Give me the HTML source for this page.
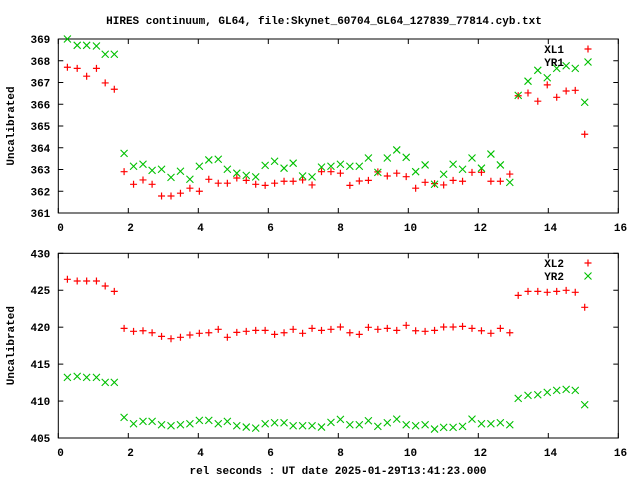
<!DOCTYPE html>
<html><head><meta charset="utf-8"><style>
html,body{margin:0;padding:0;background:#fff;width:640px;height:480px;overflow:hidden}
svg text{font-family:"Liberation Mono",monospace;font-weight:bold;font-size:11px;fill:#000}
</style></head><body>
<svg id="chart" width="640" height="480" viewBox="0 0 640 480" xmlns="http://www.w3.org/2000/svg">
<text x="324" y="24" text-anchor="middle">HIRES continuum, GL64, file:Skynet_60704_GL64_127839_77814.cyb.txt</text>
<text x="338" y="474" text-anchor="middle">rel seconds : UT date 2025-01-29T13:41:23.000</text>
<g id="g"></g>
</svg>
<script>
const times=[0.26,0.54,0.81,1.09,1.34,1.60,
1.88,2.15,2.42,2.68,2.95,3.22,3.49,3.76,4.03,4.30,4.57,4.83,5.10,5.37,5.64,5.91,6.18,6.45,6.71,6.98,7.25,7.52,7.79,8.06,8.33,8.60,8.86,9.13,9.40,9.67,9.94,10.21,10.48,10.75,11.01,11.28,11.55,11.82,12.09,12.36,12.63,12.90,
13.14,13.42,13.70,13.97,14.24,14.51,14.77,15.04];
const xl1=[367.70,367.65,367.29,367.65,366.98,366.69,
362.90,362.32,362.52,362.32,361.78,361.78,361.91,362.14,362.00,362.55,362.37,362.37,362.61,362.50,362.32,362.27,362.37,362.46,362.46,362.52,362.29,362.90,362.90,362.83,
362.27,362.47,362.50,362.89,362.70,362.83,362.67,362.14,362.41,362.35,362.29,362.50,362.46,362.87,362.87,362.46,362.46,362.79,
366.39,366.52,366.14,366.89,366.32,366.61,366.64,364.62];
const yr1=[369.00,368.71,368.71,368.68,368.30,368.30,
363.74,363.15,363.24,362.96,363.01,362.64,362.92,362.55,363.15,363.44,363.47,363.01,362.83,362.73,362.66,363.19,363.38,363.06,363.29,362.70,362.66,363.11,363.15,363.24,
363.15,363.15,363.53,362.87,363.53,363.90,363.56,362.90,363.21,362.32,362.78,363.24,363.01,363.53,363.06,363.71,363.21,362.41,
366.41,367.06,367.56,367.22,367.65,367.77,367.65,366.09];
const xl2=[426.48,426.25,426.25,426.25,425.57,424.85,
419.84,419.44,419.52,419.25,418.76,418.44,418.63,418.94,419.17,419.25,419.71,418.63,419.30,419.44,419.57,419.57,419.03,419.25,419.71,419.17,419.84,419.57,419.71,420.02,
419.25,419.03,419.98,419.71,419.84,419.57,420.25,419.52,419.44,419.57,420.02,420.02,420.11,419.84,419.52,419.17,419.84,419.25,
424.31,424.85,424.85,424.72,424.85,424.99,424.72,422.69];
const yr2=[413.21,413.34,413.21,413.21,412.53,412.53,
407.79,406.93,407.25,407.25,406.79,406.66,406.79,406.93,407.39,407.39,406.93,407.25,406.66,406.48,406.34,406.93,407.06,407.06,406.66,406.66,406.66,406.48,407.12,407.52,
406.79,406.79,407.33,406.57,407.06,407.56,406.79,406.66,406.79,406.21,406.44,406.44,406.57,407.56,406.93,406.93,407.06,406.79,
410.37,410.77,410.85,411.18,411.45,411.58,411.45,409.50];
const xTicks=[0,2,4,6,8,10,12,14,16];
const yTicks1=[361,362,363,364,365,366,367,368,369];
const yTicks2=[405,410,415,420,425,430];
const NS="http://www.w3.org/2000/svg";
const g=document.getElementById('g');
function mk(t,a,p){const e=document.createElementNS(NS,t);for(const k in a)e.setAttribute(k,a[k]);(p||g).appendChild(e);return e;}
const L=58.3,R=618.3;
const sx=v=>L+(v-0)/(16-0)*(R-L);
function panel(name,top,bot,ymin,ymax,yt,s1,s2,n1,n2,legY){
  const sy=v=>bot-(v-ymin)/(ymax-ymin)*(bot-top);
  const pg=mk('g',{});
  
  
  const fr=mk('rect',{x:L,y:top,width:R-L,height:bot-top,fill:'none',stroke:'#000','stroke-width':1},pg);
  
  
  xTicks.forEach(t=>{const x=sx(t);
    mk('line',{x1:x,y1:bot,x2:x,y2:bot-5,stroke:'#000'},pg);
    mk('line',{x1:x,y1:top,x2:x,y2:top+5,stroke:'#000'},pg);
    const tx=mk('text',{x:x+2.2,y:bot+18,'text-anchor':'middle'},pg);tx.textContent=t;
    
    
  });
  yt.forEach(t=>{const y=sy(t);
    mk('line',{x1:L,y1:y,x2:L+5,y2:y,stroke:'#000'},pg);
    mk('line',{x1:R,y1:y,x2:R-5,y2:y,stroke:'#000'},pg);
    const tx=mk('text',{x:L-8,y:y+4,'text-anchor':'end'},pg);tx.textContent=t;
    
    
  });
  const yl=mk('text',{x:0,y:0,'text-anchor':'middle',transform:`translate(14,${(top+bot)/2}) rotate(-90)`},pg);
  yl.textContent='Uncalibrated';
  
  
  function plus(x,y,p){mk('path',{d:`M${x-3.5},${y}H${x+3.5}M${x},${y-3.5}V${y+3.5}`,stroke:'#ff0000','stroke-width':1.2,fill:'none'},p);}
  function cross(x,y,p){mk('path',{d:`M${x-3.5},${y-3.5}L${x+3.5},${y+3.5}M${x-3.5},${y+3.5}L${x+3.5},${y-3.5}`,stroke:'#00c000','stroke-width':1.1,fill:'none'},p);}
  const g1=mk('g',{},pg);
  
  
  s1.forEach((v,i)=>plus(sx(times[i]),sy(v),g1));
  const g2=mk('g',{},pg);
  
  
  s2.forEach((v,i)=>cross(sx(times[i]),sy(v),g2));
  const lg=mk('g',{},pg);
  
  
  const t1=mk('text',{x:564,y:legY+4,'text-anchor':'end'},lg);t1.textContent=n1;
  const t2=mk('text',{x:564,y:legY+17,'text-anchor':'end'},lg);t2.textContent=n2;
  plus(588,legY,lg);cross(588,legY+13,lg);
}
panel('top',39,213,361,369,yTicks1,xl1,yr1,'XL1','YR1',49);
panel('bottom',253.3,438,405,430,yTicks2,xl2,yr2,'XL2','YR2',263);
</script>
</body></html>
